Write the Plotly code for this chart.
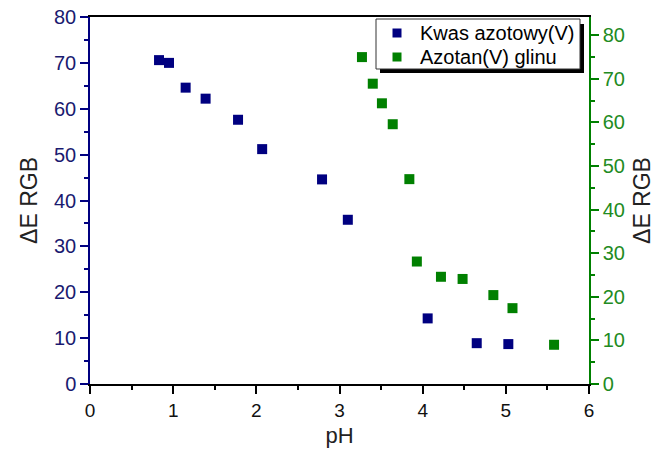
import plotly.graph_objects as go

# Kwas azotowy(V) - left axis
ph_kwas = [0.83, 0.95, 1.15, 1.39, 1.78, 2.07, 2.79, 3.10, 4.06, 4.65, 5.03]
de_kwas = [70.6, 70.0, 64.6, 62.2, 57.6, 51.2, 44.6, 35.8, 14.3, 8.9, 8.7]

# Azotan(V) glinu - right axis
ph_glin = [3.27, 3.40, 3.51, 3.64, 3.84, 3.93, 4.22, 4.48, 4.85, 5.08, 5.58]
de_glin = [75.0, 68.9, 64.4, 59.6, 47.0, 28.1, 24.6, 24.1, 20.4, 17.4, 9.0]

series_names = ['Kwas azotowy(V)', 'Azotan(V) glinu']

NAVY = '#000080'
GREEN = '#008000'
FONT = 'Liberation Sans, Arial, sans-serif'

fig = go.Figure()
fig.add_trace(go.Scatter(
    x=ph_kwas, y=de_kwas, mode='markers', name=series_names[0],
    marker=dict(symbol='square', size=10, color=NAVY), showlegend=False))
fig.add_trace(go.Scatter(
    x=ph_glin, y=de_glin, mode='markers', name=series_names[1], yaxis='y2',
    marker=dict(symbol='square', size=10, color=GREEN), showlegend=False))

# plot area in pixels, used to place the legend box (Origin-style, with shadow)
L, R, T, B = 90, 589, 17, 384
def px_x(p):
    return (p - L) / (R - L)
def px_y(p):
    return (B - p) / (B - T)

def box(x0, x1, y0, y1, **kw):
    fig.add_shape(type='rect', xref='paper', yref='paper', layer='above',
                  x0=px_x(x0), x1=px_x(x1), y0=px_y(y1), y1=px_y(y0), **kw)

box(380, 584, 24, 73, fillcolor='black', line=dict(width=0))
box(376, 580, 19, 69, fillcolor='white', line=dict(color='#333', width=1))
for name, color, yc in zip(series_names, [NAVY, GREEN], [33, 57]):
    box(392.5, 401.5, yc - 4.5, yc + 4.5, fillcolor=color, line=dict(width=0))
    fig.add_annotation(xref='paper', yref='paper', x=px_x(418), y=px_y(yc),
                       xanchor='left', yanchor='middle', showarrow=False,
                       text=name, font=dict(size=20, color='black'))

fig.update_layout(
    width=656, height=456,
    margin=dict(l=L, r=656 - R, t=T, b=456 - B, autoexpand=False),
    paper_bgcolor='white', plot_bgcolor='white',
    font=dict(family=FONT, size=20, color='#222'),
    xaxis=dict(
        range=[0, 6], dtick=1, showgrid=False, zeroline=False, automargin=False,
        showline=True, linecolor='black', linewidth=1.5, mirror=True,
        ticks='outside', ticklen=8, tickwidth=1.5, tickcolor='black',
        minor=dict(dtick=0.5, ticks='outside', ticklen=4, tickcolor='black'),
        tickfont=dict(size=19, color='#111'),
        title=dict(text='pH', font=dict(size=22, color='#222'), standoff=8)),
    yaxis=dict(
        range=[0, 80], dtick=10, showgrid=False, zeroline=False, automargin=False,
        showline=True, linecolor=NAVY, linewidth=1.5,
        ticks='outside', ticklen=8, tickwidth=1.5, tickcolor=NAVY,
        minor=dict(dtick=5, ticks='outside', ticklen=4, tickcolor=NAVY),
        tickfont=dict(size=20, color='#1a1a70'),
        title=dict(text='ΔE RGB', font=dict(size=23, color='#222'), standoff=10)),
    yaxis2=dict(
        range=[0, 84.2], dtick=10, overlaying='y', side='right',
        showgrid=False, zeroline=False, automargin=False,
        showline=True, linecolor=GREEN, linewidth=1.5,
        ticks='outside', ticklen=8, tickwidth=1.5, tickcolor=GREEN,
        minor=dict(dtick=5, ticks='outside', ticklen=4, tickcolor=GREEN),
        tickfont=dict(size=20, color='#228b22'),
        title=dict(text='ΔE RGB', font=dict(size=23, color='#222'), standoff=10)),
)

fig.write_html("out.html", config={'displayModeBar': False},
               post_script="document.body.style.margin = '0';")
